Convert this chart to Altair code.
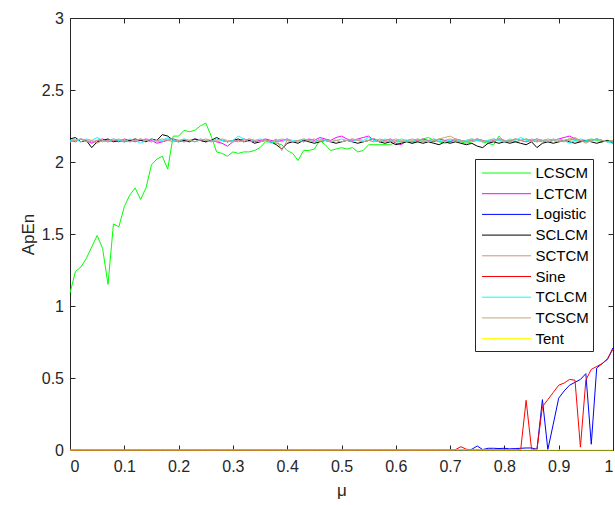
import altair as alt
import pandas as pd
import numpy as np

# ---------------- data ----------------
series_names = ["LCSCM", "LCTCM", "Logistic", "SCLCM", "SCTCM", "Sine", "TCLCM", "TCSCM", "Tent"]
series_colors = ["#00FF00", "#FF00FF", "#0000FF", "#000000", "#D48C8C", "#FF0000", "#00FFFF", "#C8A478", "#FFFF00"]

mu = np.round(np.arange(101) * 0.01, 2)

LCSCM = [
    1.09, 1.24, 1.27, 1.33, 1.41, 1.49, 1.40, 1.15, 1.57, 1.55,
    1.69, 1.77, 1.82, 1.74, 1.82, 1.98, 2.02, 2.04, 1.95, 2.18,
    2.18, 2.22, 2.21, 2.22, 2.25, 2.27, 2.18, 2.07, 2.06, 2.04,
    2.07, 2.06, 2.07, 2.07, 2.08, 2.10, 2.14, 2.14, 2.13, 2.12,
    2.08, 2.06, 2.01, 2.08, 2.08, 2.09, 2.15, 2.12, 2.08, 2.09,
    2.10, 2.09, 2.10, 2.07, 2.08, 2.12, 2.12, 2.12, 2.12, 2.12,
    2.14, 2.14, 2.15, 2.13, 2.14, 2.16, 2.17, 2.15, 2.14, 2.13,
    2.14, 2.15, 2.14, 2.13, 2.14, 2.15, 2.14, 2.13, 2.12, 2.18,
    2.14, 2.15, 2.14, 2.15, 2.16, 2.15, 2.14, 2.15, 2.14, 2.15,
    2.14, 2.15, 2.16, 2.15, 2.14, 2.15, 2.16, 2.15, 2.14, 2.15, 2.14,
]
LCTCM = [
    2.15, 2.14, 2.16, 2.15, 2.13, 2.15, 2.16, 2.14, 2.15, 2.14,
    2.16, 2.15, 2.14, 2.15, 2.16, 2.15, 2.13, 2.14, 2.15, 2.16,
    2.15, 2.14, 2.15, 2.16, 2.15, 2.14, 2.15, 2.14, 2.13, 2.11,
    2.14, 2.15, 2.16, 2.15, 2.14, 2.15, 2.16, 2.15, 2.14, 2.15,
    2.16, 2.14, 2.15, 2.14, 2.16, 2.15, 2.17, 2.16, 2.15, 2.17,
    2.18, 2.16, 2.15, 2.16, 2.17, 2.18, 2.15, 2.14, 2.15, 2.16,
    2.13, 2.12, 2.15, 2.14, 2.15, 2.16, 2.15, 2.14, 2.16, 2.15,
    2.14, 2.16, 2.15, 2.14, 2.15, 2.16, 2.15, 2.14, 2.15, 2.16,
    2.15, 2.14, 2.16, 2.15, 2.14, 2.15, 2.16, 2.15, 2.14, 2.15,
    2.16, 2.17, 2.18, 2.16, 2.15, 2.14, 2.15, 2.16, 2.15, 2.14, 2.15,
]
Logistic = [
    0, 0, 0, 0, 0, 0, 0, 0, 0, 0,
    0, 0, 0, 0, 0, 0, 0, 0, 0, 0,
    0, 0, 0, 0, 0, 0, 0, 0, 0, 0,
    0, 0, 0, 0, 0, 0, 0, 0, 0, 0,
    0, 0, 0, 0, 0, 0, 0, 0, 0, 0,
    0, 0, 0, 0, 0, 0, 0, 0, 0, 0,
    0, 0, 0, 0, 0, 0, 0, 0, 0, 0,
    0, 0, 0, 0, 0.005, 0.028, 0.003, 0.012, 0.012, 0.010,
    0.012, 0.008, 0.010, 0.012, 0.014, 0.014, 0.005, 0.35, 0.003, 0.18,
    0.36, 0.41, 0.45, 0.47, 0.49, 0.53, 0.04, 0.57, 0.60, 0.63, 0.71,
]
SCLCM = [
    2.16, 2.17, 2.14, 2.15, 2.10, 2.14, 2.15, 2.16, 2.14, 2.15,
    2.14, 2.15, 2.16, 2.15, 2.14, 2.16, 2.15, 2.19, 2.18, 2.15,
    2.14, 2.15, 2.14, 2.16, 2.15, 2.14, 2.15, 2.17, 2.15, 2.14,
    2.15, 2.16, 2.14, 2.15, 2.13, 2.14, 2.15, 2.14, 2.12, 2.09,
    2.13, 2.14, 2.13, 2.15, 2.14, 2.13, 2.14, 2.15, 2.14, 2.13,
    2.14, 2.15, 2.14, 2.13, 2.14, 2.15, 2.16, 2.14, 2.13, 2.14,
    2.12, 2.13, 2.14, 2.13, 2.14, 2.13, 2.14, 2.13, 2.12, 2.14,
    2.13, 2.14, 2.13, 2.12, 2.13, 2.11, 2.10, 2.13, 2.14, 2.13,
    2.14, 2.13, 2.14, 2.13, 2.12, 2.14, 2.10, 2.13, 2.14, 2.13,
    2.14, 2.15, 2.14, 2.13, 2.14, 2.15, 2.14, 2.13, 2.14, 2.15, 2.13,
]
SCTCM = [
    2.14, 2.15, 2.16, 2.15, 2.14, 2.15, 2.14, 2.15, 2.16, 2.15,
    2.15, 2.14, 2.15, 2.16, 2.15, 2.14, 2.15, 2.14, 2.16, 2.15,
    2.15, 2.16, 2.15, 2.14, 2.15, 2.16, 2.15, 2.14, 2.15, 2.14,
    2.15, 2.14, 2.15, 2.16, 2.15, 2.14, 2.15, 2.14, 2.16, 2.08,
    2.15, 2.14, 2.15, 2.14, 2.15, 2.16, 2.14, 2.15, 2.14, 2.15,
    2.14, 2.15, 2.16, 2.15, 2.14, 2.15, 2.14, 2.16, 2.15, 2.14,
    2.15, 2.14, 2.15, 2.16, 2.15, 2.14, 2.15, 2.16, 2.14, 2.15,
    2.16, 2.15, 2.14, 2.15, 2.16, 2.15, 2.14, 2.15, 2.16, 2.15,
    2.14, 2.15, 2.16, 2.15, 2.14, 2.16, 2.15, 2.14, 2.15, 2.16,
    2.15, 2.14, 2.15, 2.16, 2.15, 2.14, 2.15, 2.16, 2.15, 2.14, 2.15,
]
Sine = [
    0, 0, 0, 0, 0, 0, 0, 0, 0, 0,
    0, 0, 0, 0, 0, 0, 0, 0, 0, 0,
    0, 0, 0, 0, 0, 0, 0, 0, 0, 0,
    0, 0, 0, 0, 0, 0, 0, 0, 0, 0,
    0, 0, 0, 0, 0, 0, 0, 0, 0, 0,
    0, 0, 0, 0, 0, 0, 0, 0, 0, 0,
    0, 0, 0, 0, 0, 0, 0, 0, 0, 0,
    0, 0.003, 0.023, 0.005, 0.002, 0.002, 0.002, 0.002, 0.002, 0.002,
    0.002, 0.002, 0.002, 0.003, 0.345, 0.005, 0.003, 0.30, 0.35, 0.40,
    0.45, 0.465, 0.49, 0.485, 0.02, 0.485, 0.56, 0.58, 0.60, 0.635, 0.70,
]
TCLCM = [
    2.15, 2.16, 2.14, 2.16, 2.15, 2.17, 2.15, 2.14, 2.16, 2.15,
    2.14, 2.16, 2.15, 2.13, 2.15, 2.16, 2.14, 2.15, 2.17, 2.15,
    2.14, 2.16, 2.15, 2.14, 2.16, 2.15, 2.14, 2.16, 2.15, 2.14,
    2.15, 2.18, 2.16, 2.14, 2.15, 2.16, 2.15, 2.13, 2.15, 2.14,
    2.16, 2.15, 2.14, 2.16, 2.15, 2.14, 2.16, 2.15, 2.14, 2.15,
    2.16, 2.15, 2.14, 2.16, 2.15, 2.17, 2.15, 2.14, 2.16, 2.15,
    2.14, 2.16, 2.15, 2.14, 2.16, 2.15, 2.14, 2.16, 2.15, 2.14,
    2.15, 2.16, 2.14, 2.15, 2.16, 2.15, 2.14, 2.15, 2.16, 2.15,
    2.14, 2.16, 2.15, 2.17, 2.15, 2.14, 2.16, 2.15, 2.14, 2.15,
    2.16, 2.15, 2.13, 2.15, 2.16, 2.15, 2.14, 2.16, 2.15, 2.14, 2.13,
]
TCSCM = [
    2.14, 2.15, 2.16, 2.14, 2.15, 2.13, 2.15, 2.14, 2.15, 2.16,
    2.15, 2.14, 2.15, 2.16, 2.15, 2.14, 2.15, 2.16, 2.15, 2.14,
    2.15, 2.14, 2.15, 2.14, 2.16, 2.15, 2.14, 2.15, 2.16, 2.15,
    2.14, 2.15, 2.14, 2.16, 2.15, 2.14, 2.15, 2.14, 2.15, 2.16,
    2.15, 2.14, 2.15, 2.16, 2.15, 2.14, 2.15, 2.16, 2.14, 2.15,
    2.14, 2.15, 2.16, 2.15, 2.14, 2.15, 2.16, 2.15, 2.14, 2.15,
    2.16, 2.15, 2.14, 2.15, 2.16, 2.15, 2.14, 2.15, 2.16, 2.17,
    2.18, 2.16, 2.15, 2.14, 2.15, 2.16, 2.15, 2.14, 2.15, 2.16,
    2.15, 2.14, 2.16, 2.15, 2.16, 2.15, 2.14, 2.15, 2.16, 2.15,
    2.14, 2.15, 2.16, 2.17, 2.15, 2.13, 2.15, 2.16, 2.15, 2.14, 2.15,
]
Tent = [
    0, 0, 0, 0, 0, 0, 0, 0, 0, 0,
    0, 0, 0, 0, 0, 0, 0, 0, 0, 0,
    0, 0, 0, 0, 0, 0, 0, 0, 0, 0,
    0, 0, 0, 0, 0, 0, 0, 0, 0, 0,
    0, 0, 0, 0, 0, 0, 0, 0, 0, 0,
    0, 0, 0, 0, 0, 0, 0, 0, 0, 0,
    0, 0, 0, 0, 0, 0, 0, 0, 0, 0,
    0, 0, 0, 0, 0, 0, 0, 0, 0, 0,
    0, 0, 0, 0, 0, 0, 0, 0, 0, 0,
    0, 0, 0, 0, 0, 0, 0, 0, 0, 0, 0,
]

x_ticks = [0, 0.1, 0.2, 0.3, 0.4, 0.5, 0.6, 0.7, 0.8, 0.9, 1]
y_ticks = [0, 0.5, 1, 1.5, 2, 2.5, 3]

all_series = [LCSCM, LCTCM, Logistic, SCLCM, SCTCM, Sine, TCLCM, TCSCM, Tent]
rows = []
for name, vals in zip(series_names, all_series):
    for m, v in zip(mu, vals):
        rows.append({"mu": float(m), "ApEn": float(v), "series": name})
df = pd.DataFrame(rows)

# ---------------- chart ----------------
FONT = "Liberation Sans"
AX = "#262626"
W, H = 543, 432

x_scale = alt.Scale(domain=[0, 1], nice=False, zero=False)
y_scale = alt.Scale(domain=[0, 3], nice=False, zero=False)

common_axis = dict(
    offset=-5, tickSize=5, tickColor=AX, tickWidth=1, domain=False, grid=False,
    labelFont=FONT, labelFontSize=16, labelColor=AX, format="~g",
)

lines = alt.Chart(df).mark_line(strokeWidth=1, clip=False).encode(
    x=alt.X("mu:Q", scale=x_scale,
            axis=alt.Axis(orient="bottom", values=x_ticks, labelPadding=8,
                          title="μ", titleFont=FONT, titleFontSize=17, titleFontWeight="normal",
                          titleColor=AX, titleBaseline="alphabetic", titleY=50,
                          **common_axis)),
    y=alt.Y("ApEn:Q", scale=y_scale,
            axis=alt.Axis(orient="left", values=y_ticks, labelPadding=6.5,
                          title="ApEn", titleFont=FONT, titleFontSize=17, titleFontWeight="normal",
                          titleColor=AX, titleBaseline="alphabetic", titleX=-42,
                          **common_axis)),
    color=alt.Color("series:N",
                    scale=alt.Scale(domain=series_names, range=series_colors),
                    legend=alt.Legend(
                        title=None, orient="none", legendX=405, legendY=141,
                        symbolType="M-0.7,0H4.2", symbolSize=400, symbolStrokeWidth=1,
                        labelFont=FONT, labelFontSize=15, labelColor="#000000",
                        labelOffset=36, rowPadding=1.7, padding=3.5,
                        strokeColor=AX, fillColor="#FFFFFF",
                    )),
    detail="series:N",
)

frame = alt.Chart(df).mark_point(opacity=0).encode(
    x=alt.X("mu:Q", scale=x_scale,
            axis=alt.Axis(orient="top", values=x_ticks, labels=False, title=None, **common_axis)),
    y=alt.Y("ApEn:Q", scale=y_scale,
            axis=alt.Axis(orient="right", values=y_ticks, labels=False, title=None, **common_axis)),
)

chart = alt.layer(lines, frame).resolve_axis(x="independent", y="independent").properties(
    width=W, height=H,
    autosize=alt.AutoSizeParams(type="none"),
    padding={"left": 70, "top": 18, "right": 2, "bottom": 55},
    background="#FFFFFF",
).configure_view(stroke=AX, strokeWidth=1)

chart.save("out.html", embed_options={"renderer": "svg", "actions": False})
